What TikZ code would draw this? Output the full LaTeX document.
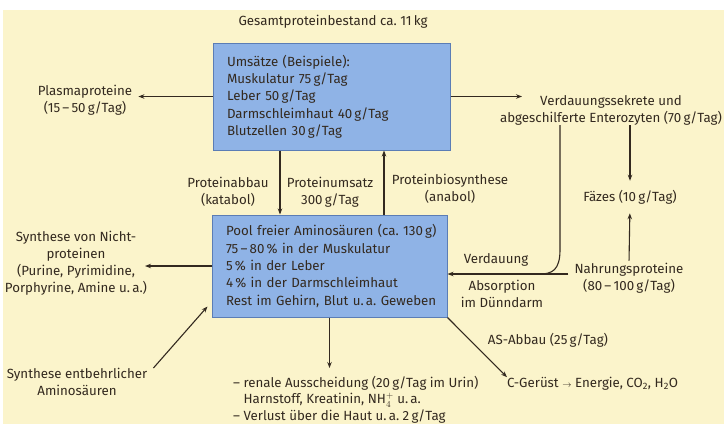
\documentclass[tikz,border=0pt]{standalone}
\usepackage{fontspec}
\setmainfont{Fira Sans}
\usetikzlibrary{arrows.meta}
\definecolor{papier}{HTML}{FBF4CB}
\definecolor{kastenfarbe}{HTML}{8FB3E6}
\definecolor{kastenrand}{HTML}{5B7DB5}
\definecolor{schrift}{HTML}{33291F}
\tikzset{
  txt/.style={align=center, inner sep=0pt, text=schrift, font=\fontsize{13.3}{17}\selectfont},
  kasten/.style={draw=kastenrand, fill=kastenfarbe, line width=1pt, align=left, inner xsep=14pt, text=schrift, font=\fontsize{13.3}{17.3}\selectfont},
  pfeil/.style={draw=schrift, line width=1.1pt, -{Stealth[length=6pt,width=4.5pt]}},
  linie/.style={draw=schrift, line width=1.1pt}
}

\begin{document}
\frenchspacing
\begin{tikzpicture}[x=1pt,y=-1pt]
\useasboundingbox (0,0) rectangle (724,424);
\fill[papier] (3,10) rectangle (724,424);

\node[txt] (bestand) at (333,22) {Gesamtproteinbestand ca. 11\,kg};
\node[kasten, text width=209pt, minimum height=107pt] (umsatz) at (331.5,96.5) {Umsätze (Beispiele):\\Muskulatur 75\,g/Tag\\Leber 50\,g/Tag\\Darmschleimhaut 40\,g/Tag\\Blutzellen 30\,g/Tag};
\node[kasten, text width=207pt, minimum height=102pt] (pool) at (329.5,266) {\mbox{Pool freier Aminosäuren (ca. 130\,g)}\\75\,–\,80\,\% in der Muskulatur\\5\,\% in der Leber\\4\,\% in der Darmschleimhaut\\\mbox{Rest im Gehirn, Blut u.\,a. Geweben}};

\node[txt] (plasma) at (85,100) {Plasmaproteine\\(15\,–\,50\,g/Tag)};
\node[txt] (sekret) at (611,110) {Verdauungssekrete und\\abgeschilferte Enterozyten (70\,g/Tag)};
\node[txt] (faezes) at (630,197) {Fäzes (10\,g/Tag)};
\node[txt] (nahrung) at (629,278) {Nahrungsproteine\\(80\,–\,100\,g/Tag)};
\node[txt] (abbau) at (228,192) {Proteinabbau\\(katabol)};
\node[txt] (umsatzrate) at (330,192) {Proteinumsatz\\300\,g/Tag};
\node[txt] (biosynth) at (450,189) {Proteinbiosynthese\\(anabol)};
\node[txt] (nicht) at (76,263) {Synthese von Nicht-\\proteinen\\(Purine, Pyrimidine,\\Porphyrine, Amine u.\,a.)};
\node[txt] (entb) at (77,382) {Synthese entbehrlicher\\Aminosäuren};
\node[txt, align=left, anchor=north west, font=\fontsize{13.3}{16.5}\selectfont] (ausscheid) at (233,376) {– renale Ausscheidung (20\,g/Tag im Urin)\\\phantom{– }Harnstoff, Kreatinin, NH$_4^+$ u.\,a.\\– Verlust über die Haut u.\,a. 2\,g/Tag};
\node[txt] (asabbau) at (548,340) {AS-Abbau (25\,g/Tag)};
\node[txt, anchor=west] (cgeruest) at (507,384) {C-Gerüst {\small$\rightarrow$} Energie, CO\textsubscript{2}, H\textsubscript{2}O};
\node[txt] (verdauung) at (496,260) {Verdauung};
\node[txt] (absorption) at (502,294) {Absorption\\im Dünndarm};

\coordinate (abx) at (280,0);
\coordinate (aufx) at (384,0);
\coordinate (kurvex) at (560,0);
\coordinate (sekin) at (522,0);
\coordinate (nichtin) at (145,0);
\coordinate (knick) at (540,274);

\draw[pfeil, shorten >=6pt] (umsatz.west) -- (umsatz.west -| plasma.east);
\draw[pfeil] (umsatz.east) -- (umsatz.east -| sekin);
\draw[pfeil] (umsatz.south -| abx) -- (pool.north -| abx);
\draw[pfeil] (pool.north -| aufx) -- (umsatz.south -| aufx);
\draw[pfeil, shorten >=9pt] (sekret.south -| faezes.north) -- (faezes.north);
\draw[pfeil, shorten <=2pt, shorten >=9pt] (nahrung.north) -- (faezes.south);
\draw[pfeil] ([shift={(-6pt,4pt)}]nahrung.west) -- ([yshift=4pt]nahrung.west -| pool.east);
\draw[linie] (sekret.south -| kurvex) -- (560,250) .. controls (560,270) and (552,274) .. (knick);
\draw[pfeil] (pool.west) -- (pool.west -| nichtin);
\draw[pfeil] ([xshift=6pt]entb.north east) -- ([shift={(-4pt,11pt)}]pool.south west);
\draw[pfeil, shorten >=8pt] (pool.south) -- (pool.south |- ausscheid.north);
\draw[pfeil] (pool.south east) -- (cgeruest.north west);
\end{tikzpicture}
\end{document}
